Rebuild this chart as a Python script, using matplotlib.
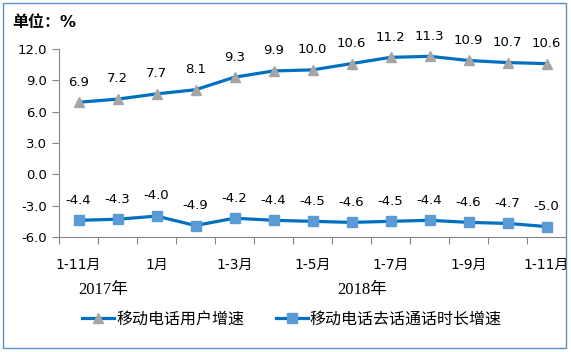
import matplotlib.pyplot as plt
from matplotlib.patches import Rectangle

plt.rcParams['font.family'] = ['DejaVu Sans', 'Noto Sans CJK SC']

# data
months = ["1-11月", "1-12月", "1月", "1-2月", "1-3月", "1-4月", "1-5月",
          "1-6月", "1-7月", "1-8月", "1-9月", "1-10月", "1-11月"]
shown_ticks = [0, 2, 4, 6, 8, 10, 12]
years = ["2017年", "2018年"]
users = [6.9, 7.2, 7.7, 8.1, 9.3, 9.9, 10.0, 10.6, 11.2, 11.3, 10.9, 10.7, 10.6]
calls = [-4.4, -4.3, -4.0, -4.9, -4.2, -4.4, -4.5, -4.6, -4.5, -4.4, -4.6, -4.7, -5.0]
yticks = [-6.0, -3.0, 0.0, 3.0, 6.0, 9.0, 12.0]

fig = plt.figure(figsize=(5.71, 3.52), dpi=100)
ax = fig.add_axes([59/571, 115/352, 507/571, 188/352])

x = list(range(len(months)))
line_col = '#0070C0'
ax.plot(x, users, color=line_col, lw=2.3, marker='^', ms=7.5,
        mfc='#A5A5A5', mec='#A5A5A5', label="移动电话用户增速", zorder=3)
ax.plot(x, calls, color=line_col, lw=2.3, marker='s', ms=6.5,
        mfc='#5B9BD5', mec='#5B9BD5', label="移动电话去话通话时长增速", zorder=3)

for i in x:
    ax.annotate("%.1f" % users[i], (i, users[i]), xytext=(0, 14.5),
                textcoords='offset points', ha='center', va='center', fontsize=9.5)
    ax.annotate("%.1f" % calls[i], (i, calls[i]), xytext=(0, 14.5),
                textcoords='offset points', ha='center', va='center', fontsize=9.5)

ax.set_xlim(-0.5, len(months) - 0.5)
ax.set_ylim(-6, 12)
ax.set_yticks(yticks)
ax.set_yticklabels(["%.1f" % v for v in yticks], fontsize=9.5)

# tick marks between categories, labels at selected months
ax.set_xticks([i - 0.5 for i in range(len(months))])
ax.set_xticklabels([])
ax.set_xticks(shown_ticks, minor=True)
ax.set_xticklabels([months[i] for i in shown_ticks], minor=True, fontsize=10)
ax.tick_params(axis='x', which='minor', length=0, pad=15)
ax.tick_params(axis='x', which='major', length=5, color='#868686')
ax.tick_params(axis='y', length=5, color='#868686')

for s in ['top', 'right']:
    ax.spines[s].set_visible(False)
ax.spines['left'].set_color('#868686')
ax.spines['bottom'].set_color('#868686')

# year labels
ax.text(0.63, -0.28, years[0], transform=ax.get_xaxis_transform(), ha='center',
        va='center', fontsize=12, family=['Liberation Serif', 'Noto Sans CJK SC'])
ax.text(7.27, -0.28, years[1], transform=ax.get_xaxis_transform(), ha='center',
        va='center', fontsize=12, family=['Liberation Serif', 'Noto Sans CJK SC'])

fig.text(12/571, 1 - 22/352, "单位：%", fontsize=11.5, fontweight='bold', va='center')

fig.legend(loc='center', bbox_to_anchor=(292/571, 1 - 319/352), ncol=2, frameon=False,
           fontsize=11.5, handlelength=2.0, columnspacing=2.0, handletextpad=0.1)

fig.patches.append(Rectangle((3/571, 4/352), 563/571, 345/352, fill=False,
                             edgecolor='#5B8FC9', lw=1, transform=fig.transFigure))

fig.savefig('out.png', dpi=100)
